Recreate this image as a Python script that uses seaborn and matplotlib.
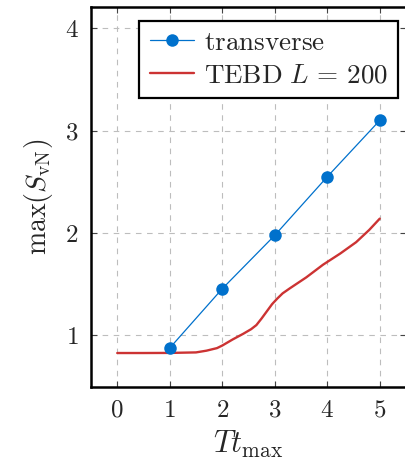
import matplotlib
matplotlib.use("Agg")
import matplotlib.pyplot as plt
import seaborn as sns
import pandas as pd

# Maximum entanglement entropy vs. quench time
transverse_t = [1, 2, 3, 4, 5]
transverse_s = [0.876, 1.455, 1.977, 2.549, 3.100]

tebd_t = [0.0, 0.5, 1.0, 1.5, 1.7, 1.9, 2.0, 2.2, 2.4, 2.55, 2.65, 2.75, 2.85,
          2.95, 3.05, 3.15, 3.29, 3.6, 3.92, 4.25, 4.55, 4.8, 5.0]
tebd_s = [0.827, 0.827, 0.828, 0.833, 0.85, 0.875, 0.90, 0.96, 1.015, 1.06,
          1.10, 1.165, 1.235, 1.305, 1.36, 1.41, 1.46, 1.566, 1.69, 1.80,
          1.91, 2.03, 2.14]

xticks = [0, 1, 2, 3, 4, 5]
yticks = [1, 2, 3, 4]

sns.set_theme(style="ticks")
plt.rcParams.update({
    "font.family": "serif",
    "font.serif": ["cmr10", "DejaVu Serif"],
    "mathtext.fontset": "cm",
    "axes.formatter.use_mathtext": True,
    "axes.unicode_minus": False,
})

df_tr = pd.DataFrame({"t": transverse_t, "s": transverse_s})
df_te = pd.DataFrame({"t": tebd_t, "s": tebd_s})

fig = plt.figure(figsize=(4.05, 4.66), dpi=100)
ax = fig.add_axes([91 / 405, 79 / 466, 315 / 405, 379.7 / 466])

sns.lineplot(data=df_tr, x="t", y="s", ax=ax, color="#0071cc", lw=0.9,
             marker="o", markersize=9, markeredgewidth=0,
             label=r"$\mathrm{transverse}$", zorder=4)
sns.lineplot(data=df_te, x="t", y="s", ax=ax, color="#cc3333", lw=1.7,
             label=r"$\mathrm{TEBD}\ L\,=\,200$", zorder=3)

ax.set_xlim(-0.5, 5.5)
ax.set_ylim(0.495, 4.205)
ax.set_xticks(xticks)
ax.set_yticks(yticks)
ax.set_xticklabels([f"${v}$" for v in xticks], fontsize=18)
ax.set_yticklabels([f"${v}$" for v in yticks], fontsize=18)
ax.tick_params(direction="in", length=4, width=0.8, color="#444444",
               top=True, right=True, pad=9)

ax.grid(True, color="#bdbdbd", linestyle=(0, (5, 5)), linewidth=0.8)
ax.set_axisbelow(True)
for sp in ax.spines.values():
    sp.set_linewidth(1.8)
    sp.set_color("black")

ax.set_xlabel(r"$Tt_{\max}$", fontsize=22, labelpad=5)
ax.set_ylabel(r"$\max(S_{\rm vN})$", fontsize=20, labelpad=7)

leg = ax.legend(loc="upper right", bbox_to_anchor=(0.975, 0.965), fontsize=19.5,
                frameon=True, fancybox=False, framealpha=1, edgecolor="black",
                handlelength=1.65, handletextpad=0.35, borderpad=0.38,
                labelspacing=0.33, borderaxespad=0)
leg.get_frame().set_linewidth(1.6)

fig.savefig("out.png", dpi=100)
